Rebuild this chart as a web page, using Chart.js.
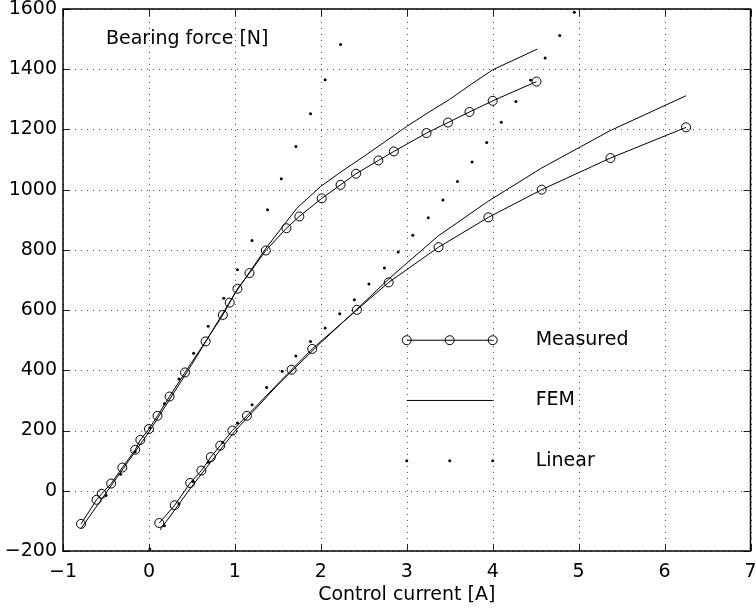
<!DOCTYPE html>
<html lang="en">
<head>
<meta charset="UTF-8">
<title>Bearing force vs control current</title>
<style>
    html, body { margin: 0; padding: 0; background: #fff; }
    .chart-box { width: 756px; height: 612px; position: relative; }
</style>
</head>
<body>
<div class="chart-box"><canvas id="chart"></canvas></div>
<script src="https://cdn.jsdelivr.net/npm/chart.js"></script>
<script>
// measured points, first curve (current [A], force [N])
var meas1I = [-0.79, -0.61, -0.55, -0.44, -0.31, -0.16, -0.10, 0.00, 0.10, 0.24, 0.42, 0.66, 0.86, 0.94, 1.03, 1.17, 1.36, 1.60, 1.75, 2.01, 2.23, 2.41, 2.67, 2.85, 3.23, 3.48, 3.73, 4.00, 4.51];
var meas1F = [-110, -30, -10, 24, 77, 136, 169, 205, 249, 313, 393, 496, 584, 625, 671, 723, 798, 872, 911, 971, 1016, 1053, 1097, 1127, 1188, 1223, 1258, 1295, 1359];

// measured points, second curve
var meas2I = [0.12, 0.30, 0.48, 0.61, 0.72, 0.83, 0.97, 1.14, 1.66, 1.90, 2.42, 2.79, 3.37, 3.95, 4.57, 5.37, 6.25];
var meas2F = [-107, -48, 26, 67, 112, 150, 200, 249, 402, 471, 601, 692, 809, 908, 1000, 1105, 1207];

// FEM results
var fem1I = [-0.79, 0.00, 0.50, 1.00, 1.36, 1.72, 2.00, 2.25, 2.50, 2.75, 3.00, 3.25, 3.50, 3.75, 4.00, 4.52];
var fem1F = [-125, 195, 420, 655, 805, 938, 1011, 1062, 1110, 1160, 1210, 1256, 1300, 1350, 1398, 1467];
var fem2I = [0.13, 0.50, 1.00, 1.50, 2.00, 2.42, 2.80, 3.36, 3.95, 4.57, 5.36, 6.25];
var fem2F = [-130, 15, 198, 352, 492, 603, 706, 845, 962, 1072, 1195, 1312];

// linear model
var lin1I = [-0.50, -0.33, -0.16, 0.01, 0.18, 0.35, 0.52, 0.69, 0.87, 1.03, 1.20, 1.38, 1.54, 1.71, 1.88, 2.05, 2.23];
var lin1F = [-16, 55, 130, 209, 289, 371, 457, 546, 639, 734, 831, 933, 1036, 1143, 1252, 1365, 1482];
var lin2I = [0.01, 0.18, 0.35, 0.51, 0.69, 0.86, 1.03, 1.20, 1.37, 1.55, 1.71, 1.88, 2.05, 2.22, 2.39, 2.56, 2.74, 2.90, 3.07, 3.25, 3.42, 3.59, 3.76, 3.93, 4.10, 4.27, 4.44, 4.61, 4.78, 4.95];
var lin2F = [-193, -116, -43, 31, 95, 160, 225, 286, 343, 397, 448, 496, 541, 588, 634, 687, 740, 793, 849, 907, 966, 1027, 1092, 1157, 1224, 1293, 1364, 1437, 1512, 1589];

var xTicks = [-1, 0, 1, 2, 3, 4, 5, 6, 7];
var yTicks = [-200, 0, 200, 400, 600, 800, 1000, 1200, 1400, 1600];

var legendNames = ['Measured', 'FEM', 'Linear'];

function pts(xs, ys) {
    return xs.map(function (x, i) { return { x: x, y: ys[i] }; });
}

function fmt(v) {
    return v < 0 ? '\u2212' + Math.abs(v) : String(v);
}

Chart.defaults.font.family = "'DejaVu Sans', sans-serif";
Chart.defaults.font.size = 19;
Chart.defaults.color = '#000';

// matlab style frame: dotted grid, box, inward ticks, in-plot legend and label
var frame = {
    id: 'frame',
    beforeDatasetsDraw: function (chart) {
        var ctx = chart.ctx, a = chart.chartArea;
        var xs = chart.scales.x, ys = chart.scales.y;
        ctx.save();
        ctx.strokeStyle = '#555';
        ctx.lineWidth = 1;
        ctx.setLineDash([1, 5]);
        xTicks.forEach(function (t) {
            var px = Math.round(xs.getPixelForValue(t)) + 0.5;
            ctx.beginPath(); ctx.moveTo(px, a.bottom); ctx.lineTo(px, a.top); ctx.stroke();
        });
        yTicks.forEach(function (t) {
            var py = Math.round(ys.getPixelForValue(t)) + 0.5;
            ctx.beginPath(); ctx.moveTo(a.left, py); ctx.lineTo(a.right, py); ctx.stroke();
        });
        ctx.restore();
    },
    afterDatasetsDraw: function (chart) {
        var ctx = chart.ctx, a = chart.chartArea;
        var xs = chart.scales.x, ys = chart.scales.y;
        var tl = 7;
        ctx.save();
        ctx.setLineDash([]);
        ctx.strokeStyle = '#222';
        ctx.lineWidth = 1;
        xTicks.forEach(function (t) {
            var px = Math.round(xs.getPixelForValue(t)) + 0.5;
            ctx.beginPath();
            ctx.moveTo(px, a.bottom); ctx.lineTo(px, a.bottom - tl);
            ctx.moveTo(px, a.top); ctx.lineTo(px, a.top + tl);
            ctx.stroke();
        });
        yTicks.forEach(function (t) {
            var py = Math.round(ys.getPixelForValue(t)) + 0.5;
            ctx.beginPath();
            ctx.moveTo(a.left, py); ctx.lineTo(a.left + tl, py);
            ctx.moveTo(a.right, py); ctx.lineTo(a.right - tl, py);
            ctx.stroke();
        });
        ctx.strokeStyle = '#000';
        ctx.lineWidth = 1.5;
        ctx.strokeRect(a.left, a.top, a.right - a.left, a.bottom - a.top);

        // legend, placed in data units
        var lx0 = xs.getPixelForValue(3), lx1 = xs.getPixelForValue(4), lxm = (lx0 + lx1) / 2;
        var tx = xs.getPixelForValue(4.5);
        var rows = [500, 300, 100].map(function (v) { return ys.getPixelForValue(v); });
        ctx.strokeStyle = '#000';
        ctx.lineWidth = 1;
        ctx.beginPath(); ctx.moveTo(lx0, rows[0]); ctx.lineTo(lx1, rows[0]); ctx.stroke();
        [lx0, lxm, lx1].forEach(function (px) {
            ctx.beginPath(); ctx.arc(px, rows[0], 4.5, 0, Math.PI * 2); ctx.stroke();
        });
        ctx.beginPath(); ctx.moveTo(lx0, rows[1]); ctx.lineTo(lx1, rows[1]); ctx.stroke();
        ctx.fillStyle = '#000';
        [lx0, lxm, lx1].forEach(function (px) {
            ctx.beginPath(); ctx.arc(px, rows[2], 1.5, 0, Math.PI * 2); ctx.fill();
        });
        ctx.font = "19px 'DejaVu Sans', sans-serif";
        ctx.textAlign = 'left';
        ctx.textBaseline = 'middle';
        legendNames.forEach(function (n, i) { ctx.fillText(n, tx, rows[i]); });

        // y label sits inside the plot
        ctx.fillText('Bearing force [N]', xs.getPixelForValue(-0.5), ys.getPixelForValue(1500));
        ctx.restore();
    }
};

var circleSet = {
    showLine: true,
    borderColor: '#000',
    borderWidth: 1,
    backgroundColor: 'rgba(0,0,0,0)',
    pointStyle: 'circle',
    pointRadius: 4.5,
    pointBorderWidth: 1,
    pointBorderColor: '#000'
};
var lineSet = { showLine: true, borderColor: '#000', borderWidth: 1, pointRadius: 0 };
var dotSet = { showLine: false, pointRadius: 1.5, pointBorderWidth: 0, pointBackgroundColor: '#000', backgroundColor: '#000' };

new Chart(document.getElementById('chart').getContext('2d'), {
    type: 'scatter',
    data: {
        datasets: [
            Object.assign({ label: 'Linear', data: pts(lin1I, lin1F) }, dotSet),
            Object.assign({ label: 'Linear', data: pts(lin2I, lin2F) }, dotSet),
            Object.assign({ label: 'FEM', data: pts(fem1I, fem1F) }, lineSet),
            Object.assign({ label: 'FEM', data: pts(fem2I, fem2F) }, lineSet),
            Object.assign({ label: 'Measured', data: pts(meas1I, meas1F) }, circleSet),
            Object.assign({ label: 'Measured', data: pts(meas2I, meas2F) }, circleSet)
        ]
    },
    options: {
        responsive: true,
        maintainAspectRatio: false,
        animation: false,
        devicePixelRatio: 1,
        layout: { padding: { top: 9, right: 5, left: 0, bottom: 0 } },
        plugins: { legend: { display: false }, tooltip: { enabled: false } },
        scales: {
            x: {
                type: 'linear',
                min: -1, max: 7,
                grid: { display: false, drawTicks: false },
                border: { display: false },
                afterBuildTicks: function (s) { s.ticks = xTicks.map(function (v) { return { value: v }; }); },
                afterFit: function (s) { s.height = 61; s.paddingLeft = 0; s.paddingRight = 0; },
                ticks: { padding: 10, maxRotation: 0, autoSkip: false, callback: function (v) { return fmt(v); } },
                title: { display: true, text: 'Control current [A]', padding: { top: 0, bottom: 5.5 } }
            },
            y: {
                type: 'linear',
                min: -200, max: 1600,
                grid: { display: false, drawTicks: false },
                border: { display: false },
                afterBuildTicks: function (s) { s.ticks = yTicks.map(function (v) { return { value: v }; }); },
                afterFit: function (s) { s.width = 63; s.paddingTop = 0; s.paddingBottom = 0; },
                ticks: { padding: 6, autoSkip: false, callback: function (v) { return fmt(v); } }
            }
        }
    },
    plugins: [frame]
});
</script>
</body>
</html>
